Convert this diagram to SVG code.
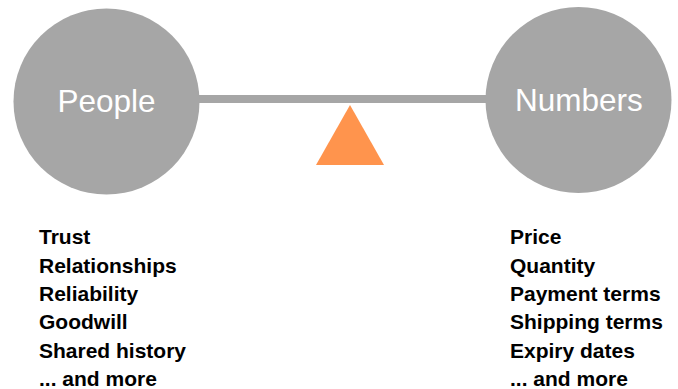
<svg xmlns="http://www.w3.org/2000/svg" width="678" height="389" viewBox="0 0 678 389">
  <style>
    .ball { fill: #a6a6a6; }
    .ball-label { font-family: "Liberation Sans", Arial, sans-serif; font-size: 31.5px; fill: #ffffff; text-anchor: middle; }
    .list { font-family: "Liberation Sans", Arial, sans-serif; font-size: 21px; font-weight: bold; fill: #000000; }
  </style>
  <rect width="678" height="389" fill="#ffffff"/>
  <!-- beam and fulcrum -->
  <g id="connectors">
    <rect x="195" y="95" width="295" height="8" fill="#a6a6a6"/>
    <polygon points="350,105 384,165 316,165" fill="#ff944d"/>
  </g>
  <g id="people">
    <circle class="ball" cx="106.5" cy="101.5" r="93"/>
    <text class="ball-label" x="106.5" y="112">People</text>
  </g>
  <g id="numbers">
    <circle class="ball" cx="578.5" cy="100" r="93"/>
    <text class="ball-label" x="578.8" y="111">Numbers</text>
  </g>
  <g id="people-list" class="list">
    <text x="39" y="244">Trust</text>
    <text x="39" y="272.5">Relationships</text>
    <text x="39" y="301">Reliability</text>
    <text x="39" y="329.3">Goodwill</text>
    <text x="39" y="357.7">Shared history</text>
    <text x="39" y="386">... and more</text>
  </g>
  <g id="numbers-list" class="list">
    <text x="510" y="244">Price</text>
    <text x="510" y="272.5">Quantity</text>
    <text x="510" y="301">Payment terms</text>
    <text x="510" y="329.3">Shipping terms</text>
    <text x="510" y="357.7">Expiry dates</text>
    <text x="510" y="386">... and more</text>
  </g>
</svg>
